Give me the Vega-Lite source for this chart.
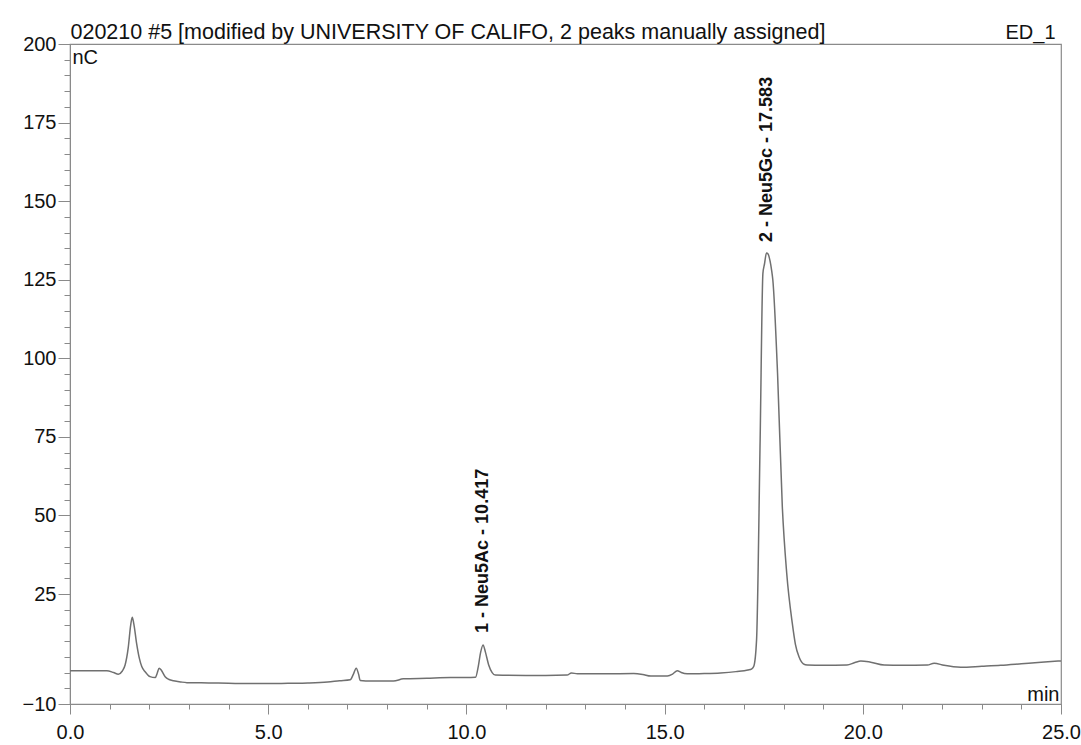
{
  "$schema": "https://vega.github.io/schema/vega-lite/v6.json",
  "width": 991,
  "height": 660,
  "autosize": {"type": "none"},
  "padding": {"left": 70, "top": 44, "right": 20, "bottom": 41},
  "background": "white",
  "config": {
    "view": {"stroke": "#8a8a8a", "strokeWidth": 1.2},
    "font": "Liberation Sans",
    "axis": {
      "grid": false,
      "domainColor": "#8a8a8a",
      "tickColor": "#8a8a8a",
      "labelColor": "#111",
      "titleColor": "#111",
      "labelFont": "Liberation Sans",
      "titleFont": "Liberation Sans",
      "labelFontSize": 20,
      "titleFontSize": 20,
      "titleFontWeight": "normal",
      "labelOverlap": false,
      "labelFlush": false
    }
  },
  "datasets": {
    "trace": [
      {"t": 0.0, "v": 0.6}, {"t": 0.5, "v": 0.6}, {"t": 0.93, "v": 0.6}, {"t": 1.1, "v": 0.0},
      {"t": 1.22, "v": -0.5}, {"t": 1.32, "v": 0.5}, {"t": 1.39, "v": 2.4}, {"t": 1.47, "v": 8},
      {"t": 1.53, "v": 15}, {"t": 1.57, "v": 17.6}, {"t": 1.61, "v": 15.5}, {"t": 1.68, "v": 9.3},
      {"t": 1.75, "v": 4.5}, {"t": 1.81, "v": 1.9}, {"t": 1.9, "v": 0.2}, {"t": 2.02, "v": -1.3},
      {"t": 2.15, "v": -1.6}, {"t": 2.2, "v": -0.2}, {"t": 2.25, "v": 1.4}, {"t": 2.3, "v": 0.8},
      {"t": 2.4, "v": -1.3}, {"t": 2.5, "v": -2.2}, {"t": 2.61, "v": -2.6}, {"t": 2.8, "v": -3.0},
      {"t": 2.95, "v": -3.2}, {"t": 3.5, "v": -3.3}, {"t": 4.0, "v": -3.4}, {"t": 4.5, "v": -3.5},
      {"t": 5.0, "v": -3.5}, {"t": 5.5, "v": -3.4}, {"t": 6.0, "v": -3.3}, {"t": 6.5, "v": -3.0},
      {"t": 6.8, "v": -2.6}, {"t": 7.07, "v": -2.3}, {"t": 7.15, "v": -0.5}, {"t": 7.22, "v": 1.4},
      {"t": 7.28, "v": -0.5}, {"t": 7.32, "v": -2.5}, {"t": 7.6, "v": -2.7}, {"t": 8.16, "v": -2.7},
      {"t": 8.41, "v": -2.0}, {"t": 9.0, "v": -1.8}, {"t": 9.6, "v": -1.6}, {"t": 10.0, "v": -1.6},
      {"t": 10.23, "v": -1.5}, {"t": 10.3, "v": 2}, {"t": 10.36, "v": 6.5}, {"t": 10.42, "v": 8.8},
      {"t": 10.48, "v": 6.5}, {"t": 10.56, "v": 2.5}, {"t": 10.65, "v": 0}, {"t": 10.73, "v": -0.8},
      {"t": 11.5, "v": -0.9}, {"t": 12.0, "v": -0.9}, {"t": 12.54, "v": -0.8}, {"t": 12.65, "v": -0.1},
      {"t": 12.8, "v": -0.4}, {"t": 13.5, "v": -0.4}, {"t": 14.22, "v": -0.3}, {"t": 14.45, "v": -0.6},
      {"t": 14.65, "v": -1.1}, {"t": 15.07, "v": -1.1}, {"t": 15.2, "v": -0.5}, {"t": 15.32, "v": 0.6},
      {"t": 15.42, "v": 0}, {"t": 15.57, "v": -0.4}, {"t": 16.0, "v": -0.3}, {"t": 16.41, "v": -0.1},
      {"t": 16.8, "v": 0.3}, {"t": 17.1, "v": 0.8}, {"t": 17.2, "v": 1.2}, {"t": 17.25, "v": 2.0},
      {"t": 17.32, "v": 10.4}, {"t": 17.41, "v": 74}, {"t": 17.48, "v": 127}, {"t": 17.52, "v": 130},
      {"t": 17.57, "v": 133.5}, {"t": 17.61, "v": 133.2}, {"t": 17.66, "v": 131}, {"t": 17.7, "v": 128},
      {"t": 17.73, "v": 125}, {"t": 17.85, "v": 95}, {"t": 17.97, "v": 52.7}, {"t": 18.08, "v": 31.7},
      {"t": 18.22, "v": 15.8}, {"t": 18.3, "v": 9}, {"t": 18.39, "v": 5}, {"t": 18.5, "v": 2.8},
      {"t": 18.6, "v": 2.4}, {"t": 19.0, "v": 2.3}, {"t": 19.6, "v": 2.4}, {"t": 19.8, "v": 3.2},
      {"t": 19.95, "v": 3.7}, {"t": 20.2, "v": 3.3}, {"t": 20.54, "v": 2.4}, {"t": 21.0, "v": 2.3},
      {"t": 21.63, "v": 2.4}, {"t": 21.8, "v": 3.0}, {"t": 22.05, "v": 2.3}, {"t": 22.47, "v": 1.7},
      {"t": 23.0, "v": 2.0}, {"t": 23.48, "v": 2.3}, {"t": 24.0, "v": 2.8}, {"t": 24.5, "v": 3.3},
      {"t": 25.0, "v": 3.7}
    ],
    "peaks": [
      {"rt": 10.417, "h": 8.8, "label": "1 - Neu5Ac - 10.417"},
      {"rt": 17.583, "h": 133.2, "label": "2 - Neu5Gc - 17.583"}
    ]
  },
  "resolve": {"axis": {"x": "independent", "y": "independent"}},
  "layer": [
    {
      "data": {"name": "trace"},
      "mark": {"type": "line", "color": "#707070", "strokeWidth": 1.5, "interpolate": "monotone"},
      "encoding": {
        "x": {
          "field": "t", "type": "quantitative",
          "scale": {"domain": [0, 25], "nice": false, "zero": false},
          "axis": {
            "orient": "bottom",
            "values": [0,1,2,3,4,5,6,7,8,9,10,11,12,13,14,15,16,17,18,19,20,21,22,23,24,25],
            "labelExpr": "datum.value % 5 === 0 ? format(datum.value, '.1f') : ''",
            "tickSize": {"condition": {"test": "datum.value % 5 === 0", "value": 10}, "value": 5},
            "labelPadding": 8,
            "title": "min",
            "titleX": 989,
            "titleY": -4,
            "titleAlign": "right",
            "titleAnchor": "end",
            "titleBaseline": "alphabetic"
          }
        },
        "y": {
          "field": "v", "type": "quantitative",
          "scale": {"domain": [-10, 200], "nice": false, "zero": false},
          "axis": {
            "orient": "left",
            "values": [-10,-5,0,5,10,15,20,25,30,35,40,45,50,55,60,65,70,75,80,85,90,95,100,105,110,115,120,125,130,135,140,145,150,155,160,165,170,175,180,185,190,195,200],
            "labelExpr": "((datum.value % 25 === 0 && datum.value > 0) || datum.value === -10) ? format(datum.value, 'd') : ''",
            "tickSize": {"condition": {"test": "(datum.value % 25 === 0 && datum.value > 0) || datum.value === -10", "value": 12}, "value": 6},
            "labelPadding": 2,
            "title": "nC",
            "titleAngle": 0,
            "titleX": 2,
            "titleY": 19,
            "titleAlign": "left",
            "titleAnchor": "start",
            "titleBaseline": "alphabetic"
          }
        }
      }
    },
    {
      "data": {"name": "peaks"},
      "mark": {"type": "text", "angle": 270, "align": "left", "baseline": "middle", "dx": 12, "fontSize": 18, "fontWeight": "bold", "color": "#111", "font": "Liberation Sans"},
      "encoding": {
        "x": {
          "field": "rt", "type": "quantitative",
          "scale": {"domain": [0, 25], "nice": false, "zero": false},
          "axis": {
            "orient": "top", "domain": false, "ticks": false, "labels": false,
            "title": "020210 #5 [modified by UNIVERSITY OF CALIFO, 2 peaks manually assigned]",
            "titleFontSize": 21.5,
            "titleX": 0, "titleY": -6,
            "titleAlign": "left", "titleAnchor": "start", "titleBaseline": "alphabetic"
          }
        },
        "y": {
          "field": "h", "type": "quantitative",
          "scale": {"domain": [-10, 200], "nice": false, "zero": false},
          "axis": {
            "orient": "right", "domain": false, "ticks": false, "labels": false,
            "title": "ED_1",
            "titleAngle": 0,
            "titleX": -6, "titleY": -6,
            "titleAlign": "right", "titleAnchor": "end", "titleBaseline": "alphabetic"
          }
        },
        "text": {"field": "label", "type": "nominal"}
      }
    }
  ]
}
